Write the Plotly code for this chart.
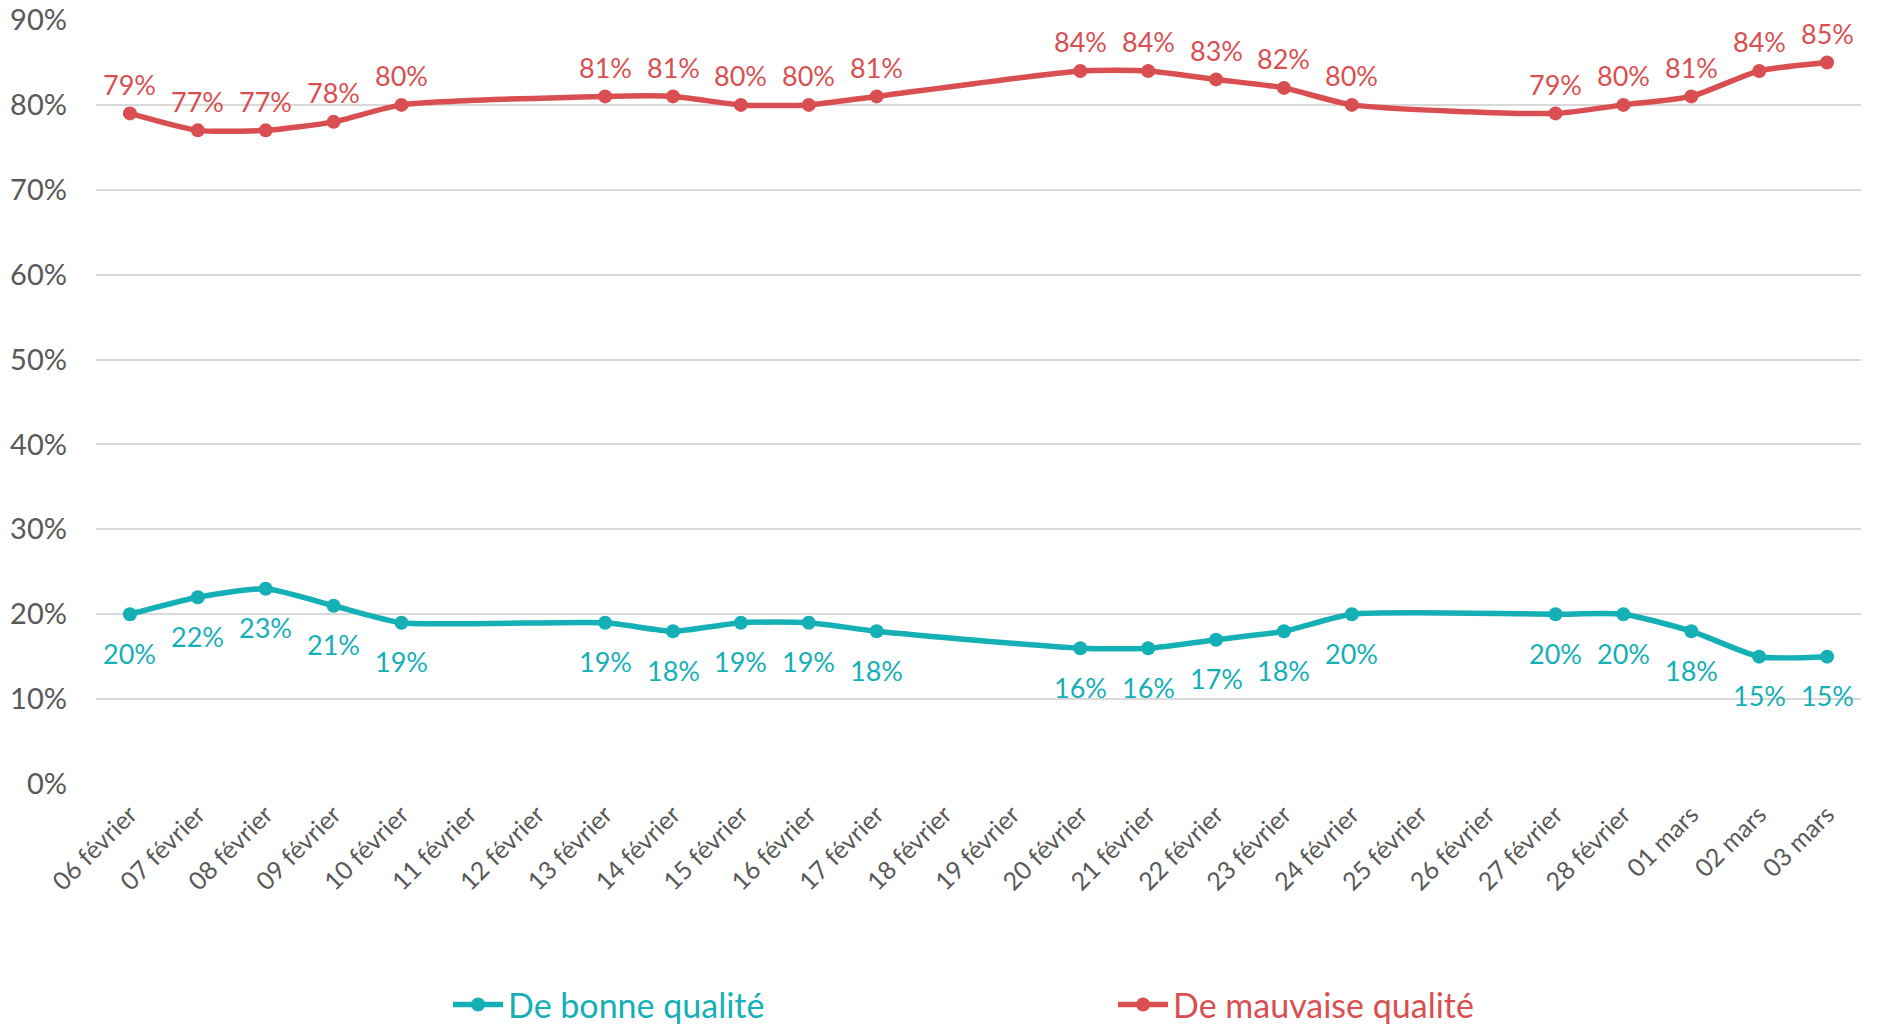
import plotly.graph_objects as go

dates = ["06 février", "07 février", "08 février", "09 février", "10 février", "11 février",
         "12 février", "13 février", "14 février", "15 février", "16 février", "17 février",
         "18 février", "19 février", "20 février", "21 février", "22 février", "23 février",
         "24 février", "25 février", "26 février", "27 février", "28 février", "01 mars",
         "02 mars", "03 mars"]

bonne = [0.20, 0.22, 0.23, 0.21, 0.19, None, None, 0.19, 0.18, 0.19, 0.19, 0.18, None, None,
         0.16, 0.16, 0.17, 0.18, 0.20, None, None, 0.20, 0.20, 0.18, 0.15, 0.15]
mauvaise = [0.79, 0.77, 0.77, 0.78, 0.80, None, None, 0.81, 0.81, 0.80, 0.80, 0.81, None, None,
            0.84, 0.84, 0.83, 0.82, 0.80, None, None, 0.79, 0.80, 0.81, 0.84, 0.85]
series_names = ["De bonne qualité", "De mauvaise qualité"]

TEAL = "#15AFB6"
RED = "#D94F51"
FONT = "Lato"

fig = go.Figure()
fig.add_trace(go.Scatter(
    x=dates, y=bonne, name=f"<span style='color:{TEAL}'>{series_names[0]}</span>",
    mode="lines+markers",
    line=dict(color=TEAL, width=5.5, shape="spline", smoothing=0.6),
    marker=dict(color=TEAL, size=14), connectgaps=True, cliponaxis=False,
))
fig.add_trace(go.Scatter(
    x=dates, y=mauvaise, name=f"<span style='color:{RED}'>{series_names[1]}</span>",
    mode="lines+markers",
    line=dict(color=RED, width=5.5, shape="spline", smoothing=0.6),
    marker=dict(color=RED, size=14), connectgaps=True, cliponaxis=False,
))

# data labels placed through the axes' scales
for d, v in zip(dates, bonne):
    if v is not None:
        fig.add_annotation(x=d, y=v, text=f"{round(v*100)}%", showarrow=False,
                           yshift=-39, font=dict(color=TEAL, size=27, family=FONT))
for d, v in zip(dates, mauvaise):
    if v is not None:
        fig.add_annotation(x=d, y=v, text=f"{round(v*100)}%", showarrow=False,
                           yshift=29, font=dict(color=RED, size=27, family=FONT))

fig.update_layout(
    width=1877, height=1024,
    margin=dict(l=96, r=16, t=20, b=240),
    paper_bgcolor="white", plot_bgcolor="white",
    font=dict(family=FONT, color="#595959"),
    showlegend=True,
    legend=dict(orientation="h", xref="container", yref="container",
                x=0.2387, xanchor="left", y=0.0186, yanchor="middle",
                entrywidth=600, entrywidthmode="pixels", itemwidth=50,
                font=dict(size=34, family=FONT), traceorder="normal"),
    xaxis=dict(type="category", range=[-0.5, len(dates) - 0.5], tickangle=-45,
               tickfont=dict(size=25, color="#595959"), ticklabelstandoff=10,
               showgrid=False, showline=False, ticks="", automargin=False),
    yaxis=dict(range=[0, 0.9], dtick=0.1, tickformat=".0%", tickfont=dict(size=29, color="#595959"),
               gridcolor="#D9D9D9", gridwidth=1.5, zeroline=False, showline=False,
               ticks="", ticklabelstandoff=28, automargin=False),
)

fig.write_html("out.html", config={"displayModeBar": False},
               post_script="document.body.style.margin='0';")
